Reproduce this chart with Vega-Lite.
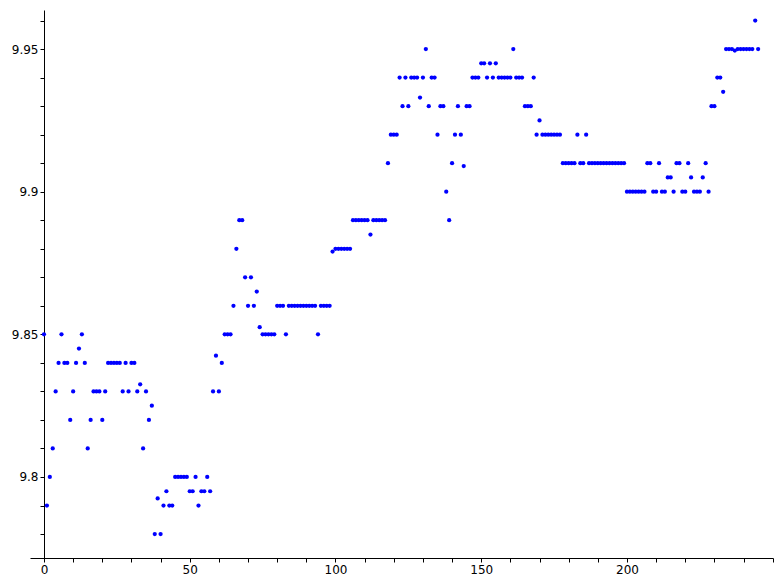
{
  "$schema": "https://vega.github.io/schema/vega-lite/v6.json",
  "width": 743,
  "height": 548,
  "autosize": "none",
  "padding": {"left": 30, "top": 10, "right": 8, "bottom": 26},
  "background": "white",
  "config": {"view": {"stroke": null}},
  "data": {"values": [
    {"i":0,"v":9.85},{"i":1,"v":9.79},{"i":2,"v":9.80},{"i":3,"v":9.81},{"i":4,"v":9.83},{"i":5,"v":9.84},{"i":6,"v":9.85},{"i":7,"v":9.84},{"i":8,"v":9.84},{"i":9,"v":9.82},
    {"i":10,"v":9.83},{"i":11,"v":9.84},{"i":12,"v":9.845},{"i":13,"v":9.85},{"i":14,"v":9.84},{"i":15,"v":9.81},{"i":16,"v":9.82},{"i":17,"v":9.83},{"i":18,"v":9.83},{"i":19,"v":9.83},
    {"i":20,"v":9.82},{"i":21,"v":9.83},{"i":22,"v":9.84},{"i":23,"v":9.84},{"i":24,"v":9.84},{"i":25,"v":9.84},{"i":26,"v":9.84},{"i":27,"v":9.83},{"i":28,"v":9.84},{"i":29,"v":9.83},
    {"i":30,"v":9.84},{"i":31,"v":9.84},{"i":32,"v":9.83},{"i":33,"v":9.8325},{"i":34,"v":9.81},{"i":35,"v":9.83},{"i":36,"v":9.82},{"i":37,"v":9.825},{"i":38,"v":9.78},{"i":39,"v":9.7925},
    {"i":40,"v":9.78},{"i":41,"v":9.79},{"i":42,"v":9.795},{"i":43,"v":9.79},{"i":44,"v":9.79},{"i":45,"v":9.80},{"i":46,"v":9.80},{"i":47,"v":9.80},{"i":48,"v":9.80},{"i":49,"v":9.80},
    {"i":50,"v":9.795},{"i":51,"v":9.795},{"i":52,"v":9.80},{"i":53,"v":9.79},{"i":54,"v":9.795},{"i":55,"v":9.795},{"i":56,"v":9.80},{"i":57,"v":9.795},{"i":58,"v":9.83},{"i":59,"v":9.8425},
    {"i":60,"v":9.83},{"i":61,"v":9.84},{"i":62,"v":9.85},{"i":63,"v":9.85},{"i":64,"v":9.85},{"i":65,"v":9.86},{"i":66,"v":9.88},{"i":67,"v":9.89},{"i":68,"v":9.89},{"i":69,"v":9.87},
    {"i":70,"v":9.86},{"i":71,"v":9.87},{"i":72,"v":9.86},{"i":73,"v":9.865},{"i":74,"v":9.8525},{"i":75,"v":9.85},{"i":76,"v":9.85},{"i":77,"v":9.85},{"i":78,"v":9.85},{"i":79,"v":9.85},
    {"i":80,"v":9.86},{"i":81,"v":9.86},{"i":82,"v":9.86},{"i":83,"v":9.85},{"i":84,"v":9.86},{"i":85,"v":9.86},{"i":86,"v":9.86},{"i":87,"v":9.86},{"i":88,"v":9.86},{"i":89,"v":9.86},
    {"i":90,"v":9.86},{"i":91,"v":9.86},{"i":92,"v":9.86},{"i":93,"v":9.86},{"i":94,"v":9.85},{"i":95,"v":9.86},{"i":96,"v":9.86},{"i":97,"v":9.86},{"i":98,"v":9.86},{"i":99,"v":9.879},
    {"i":100,"v":9.88},{"i":101,"v":9.88},{"i":102,"v":9.88},{"i":103,"v":9.88},{"i":104,"v":9.88},{"i":105,"v":9.88},{"i":106,"v":9.89},{"i":107,"v":9.89},{"i":108,"v":9.89},{"i":109,"v":9.89},
    {"i":110,"v":9.89},{"i":111,"v":9.89},{"i":112,"v":9.885},{"i":113,"v":9.89},{"i":114,"v":9.89},{"i":115,"v":9.89},{"i":116,"v":9.89},{"i":117,"v":9.89},{"i":118,"v":9.91},{"i":119,"v":9.92},
    {"i":120,"v":9.92},{"i":121,"v":9.92},{"i":122,"v":9.94},{"i":123,"v":9.93},{"i":124,"v":9.94},{"i":125,"v":9.93},{"i":126,"v":9.94},{"i":127,"v":9.94},{"i":128,"v":9.94},{"i":129,"v":9.933},
    {"i":130,"v":9.94},{"i":131,"v":9.95},{"i":132,"v":9.93},{"i":133,"v":9.94},{"i":134,"v":9.94},{"i":135,"v":9.92},{"i":136,"v":9.93},{"i":137,"v":9.93},{"i":138,"v":9.90},{"i":139,"v":9.89},
    {"i":140,"v":9.91},{"i":141,"v":9.92},{"i":142,"v":9.93},{"i":143,"v":9.92},{"i":144,"v":9.909},{"i":145,"v":9.93},{"i":146,"v":9.93},{"i":147,"v":9.94},{"i":148,"v":9.94},{"i":149,"v":9.94},
    {"i":150,"v":9.945},{"i":151,"v":9.945},{"i":152,"v":9.94},{"i":153,"v":9.945},{"i":154,"v":9.94},{"i":155,"v":9.945},{"i":156,"v":9.94},{"i":157,"v":9.94},{"i":158,"v":9.94},{"i":159,"v":9.94},
    {"i":160,"v":9.94},{"i":161,"v":9.95},{"i":162,"v":9.94},{"i":163,"v":9.94},{"i":164,"v":9.94},{"i":165,"v":9.93},{"i":166,"v":9.93},{"i":167,"v":9.93},{"i":168,"v":9.94},{"i":169,"v":9.92},
    {"i":170,"v":9.925},{"i":171,"v":9.92},{"i":172,"v":9.92},{"i":173,"v":9.92},{"i":174,"v":9.92},{"i":175,"v":9.92},{"i":176,"v":9.92},{"i":177,"v":9.92},{"i":178,"v":9.91},{"i":179,"v":9.91},
    {"i":180,"v":9.91},{"i":181,"v":9.91},{"i":182,"v":9.91},{"i":183,"v":9.92},{"i":184,"v":9.91},{"i":185,"v":9.91},{"i":186,"v":9.92},{"i":187,"v":9.91},{"i":188,"v":9.91},{"i":189,"v":9.91},
    {"i":190,"v":9.91},{"i":191,"v":9.91},{"i":192,"v":9.91},{"i":193,"v":9.91},{"i":194,"v":9.91},{"i":195,"v":9.91},{"i":196,"v":9.91},{"i":197,"v":9.91},{"i":198,"v":9.91},{"i":199,"v":9.91},
    {"i":200,"v":9.90},{"i":201,"v":9.90},{"i":202,"v":9.90},{"i":203,"v":9.90},{"i":204,"v":9.90},{"i":205,"v":9.90},{"i":206,"v":9.90},{"i":207,"v":9.91},{"i":208,"v":9.91},{"i":209,"v":9.90},
    {"i":210,"v":9.90},{"i":211,"v":9.91},{"i":212,"v":9.90},{"i":213,"v":9.90},{"i":214,"v":9.905},{"i":215,"v":9.905},{"i":216,"v":9.90},{"i":217,"v":9.91},{"i":218,"v":9.91},{"i":219,"v":9.90},
    {"i":220,"v":9.90},{"i":221,"v":9.91},{"i":222,"v":9.905},{"i":223,"v":9.90},{"i":224,"v":9.90},{"i":225,"v":9.90},{"i":226,"v":9.905},{"i":227,"v":9.91},{"i":228,"v":9.90},{"i":229,"v":9.93},
    {"i":230,"v":9.93},{"i":231,"v":9.94},{"i":232,"v":9.94},{"i":233,"v":9.935},{"i":234,"v":9.95},{"i":235,"v":9.95},{"i":236,"v":9.95},{"i":237,"v":9.9495},{"i":238,"v":9.95},{"i":239,"v":9.95},
    {"i":240,"v":9.95},{"i":241,"v":9.95},{"i":242,"v":9.95},{"i":243,"v":9.95},{"i":244,"v":9.96},{"i":245,"v":9.95}
  ]},
  "mark": {"type": "circle", "size": 18, "color": "#0000ff", "opacity": 1},
  "encoding": {
    "x": {
      "field": "i", "type": "quantitative",
      "scale": {"domain": [-4.8, 250.1], "nice": false, "zero": false},
      "axis": {"title": null, "grid": false, "values": [0,10,20,30,40,50,60,70,80,90,100,110,120,130,140,150,160,170,180,190,200,210,220,230,240,250],
        "labelExpr": "datum.value % 50 === 0 && datum.value < 250 ? datum.label : ''",
        "tickSize": 4, "tickColor": "black", "domainColor": "black", "labelColor": "black",
        "labelFont": "DejaVu Sans", "labelFontSize": 12, "labelPadding": 2}
    },
    "y": {
      "field": "v", "type": "quantitative",
      "scale": {"domain": [9.7716, 9.9637], "nice": false, "zero": false},
      "axis": {"title": null, "grid": false, "offset": -14,
        "values": [9.78,9.79,9.80,9.81,9.82,9.83,9.84,9.85,9.86,9.87,9.88,9.89,9.90,9.91,9.92,9.93,9.94,9.95,9.96],
        "labelExpr": "abs(datum.value*20 - round(datum.value*20)) < 0.001 ? format(datum.value, '.3~f') : ''",
        "tickSize": 4, "tickColor": "black", "domainColor": "black", "labelColor": "black",
        "labelFont": "DejaVu Sans", "labelFontSize": 12, "labelPadding": 2}
    }
  }
}
